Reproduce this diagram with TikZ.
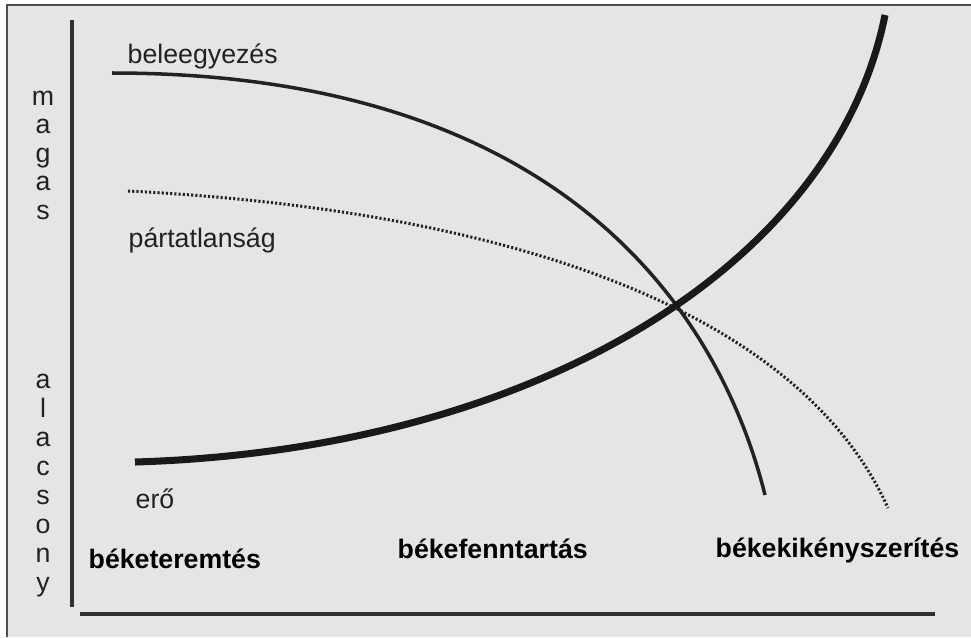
\documentclass[tikz,border=0pt]{standalone}
\usepackage{fontspec}
\setmainfont{Liberation Sans}
\definecolor{bg}{HTML}{E5E5E5}
\definecolor{ink}{HTML}{222222}
\tikzset{
  lbl/.style={anchor=base west,inner sep=0pt,text=ink,font=\fontsize{7.6}{9}\selectfont},
  blbl/.style={lbl,text=black,font=\fontsize{7.6}{9}\selectfont\bfseries},
  axlet/.style={anchor=base,inner sep=0pt,text=ink,font=\fontsize{7.6}{9}\selectfont},
  axisline/.style={line width=0.9pt,color=ink!85!gray},
  curvethin/.style={line width=1pt,color=ink},
  curvedot/.style={line width=0.85pt,color=ink,dash pattern=on 0.6pt off 0.6pt},
  curvethick/.style={line width=2pt,color=black!90}
}
\begin{document}
\begin{tikzpicture}
\useasboundingbox (0,0) rectangle (9.71,6.37);
\fill[bg] (0.07,0) rectangle (9.71,6.32);
\draw[line width=0.6pt,color=ink!80] (0.07,0) -- (0.07,6.32) -- (9.71,6.32);
% axes
\coordinate (ytop) at (0.72,6.17);
\coordinate (ybot) at (0.72,0.30);
\coordinate (xleft) at (0.80,0.23);
\coordinate (xright) at (9.35,0.23);
\draw[axisline] (ytop) -- (ybot);
\draw[axisline] (xleft) -- (xright);
% axis words
\foreach \l [count=\i] in {m,a,g,a,s}
  \node[axlet] (hi\i) at (0.43,5.32-0.285*\i+0.285) {\l};
\foreach \l [count=\i] in {a,l,a,c,s,o,n,y}
  \node[axlet] (lo\i) at (0.43,2.49-0.29*\i+0.29) {\l};
% curves
\coordinate (bel0) at (1.12,5.64);
\coordinate (bel1) at (5.62,5.64);
\coordinate (bel2) at (7.19,3.26);
\coordinate (bel3) at (7.65,1.42);
\draw[curvethin] (bel0) .. controls (bel1) and (bel2) .. (bel3);
\coordinate (par0) at (1.28,4.46);
\coordinate (par1) at (4.78,4.285);
\coordinate (par2) at (7.935,3.39);
\coordinate (par3) at (8.88,1.29);
\draw[curvedot] (par0) .. controls (par1) and (par2) .. (par3);
\coordinate (ero0) at (1.35,1.75);
\coordinate (ero1) at (5.35,1.87);
\coordinate (ero2) at (8.35,3.72);
\coordinate (ero3) at (8.85,6.22);
\draw[curvethick] (ero0) .. controls (ero1) and (ero2) .. (ero3);
% labels
\node[lbl] (beleegy) at (1.27,5.74) {beleegyezés};
\node[lbl] (partatl) at (1.28,3.90) {pártatlanság};
\node[lbl] (ero) at (1.35,1.29) {erő};
\node[blbl] (beketer) at (0.88,0.69) {béketeremtés};
\node[blbl] (bekefen) at (3.97,0.79) {békefenntartás};
\node[blbl] (bekekik) at (7.15,0.80) {békekikényszerítés};
\end{tikzpicture}
\end{document}
